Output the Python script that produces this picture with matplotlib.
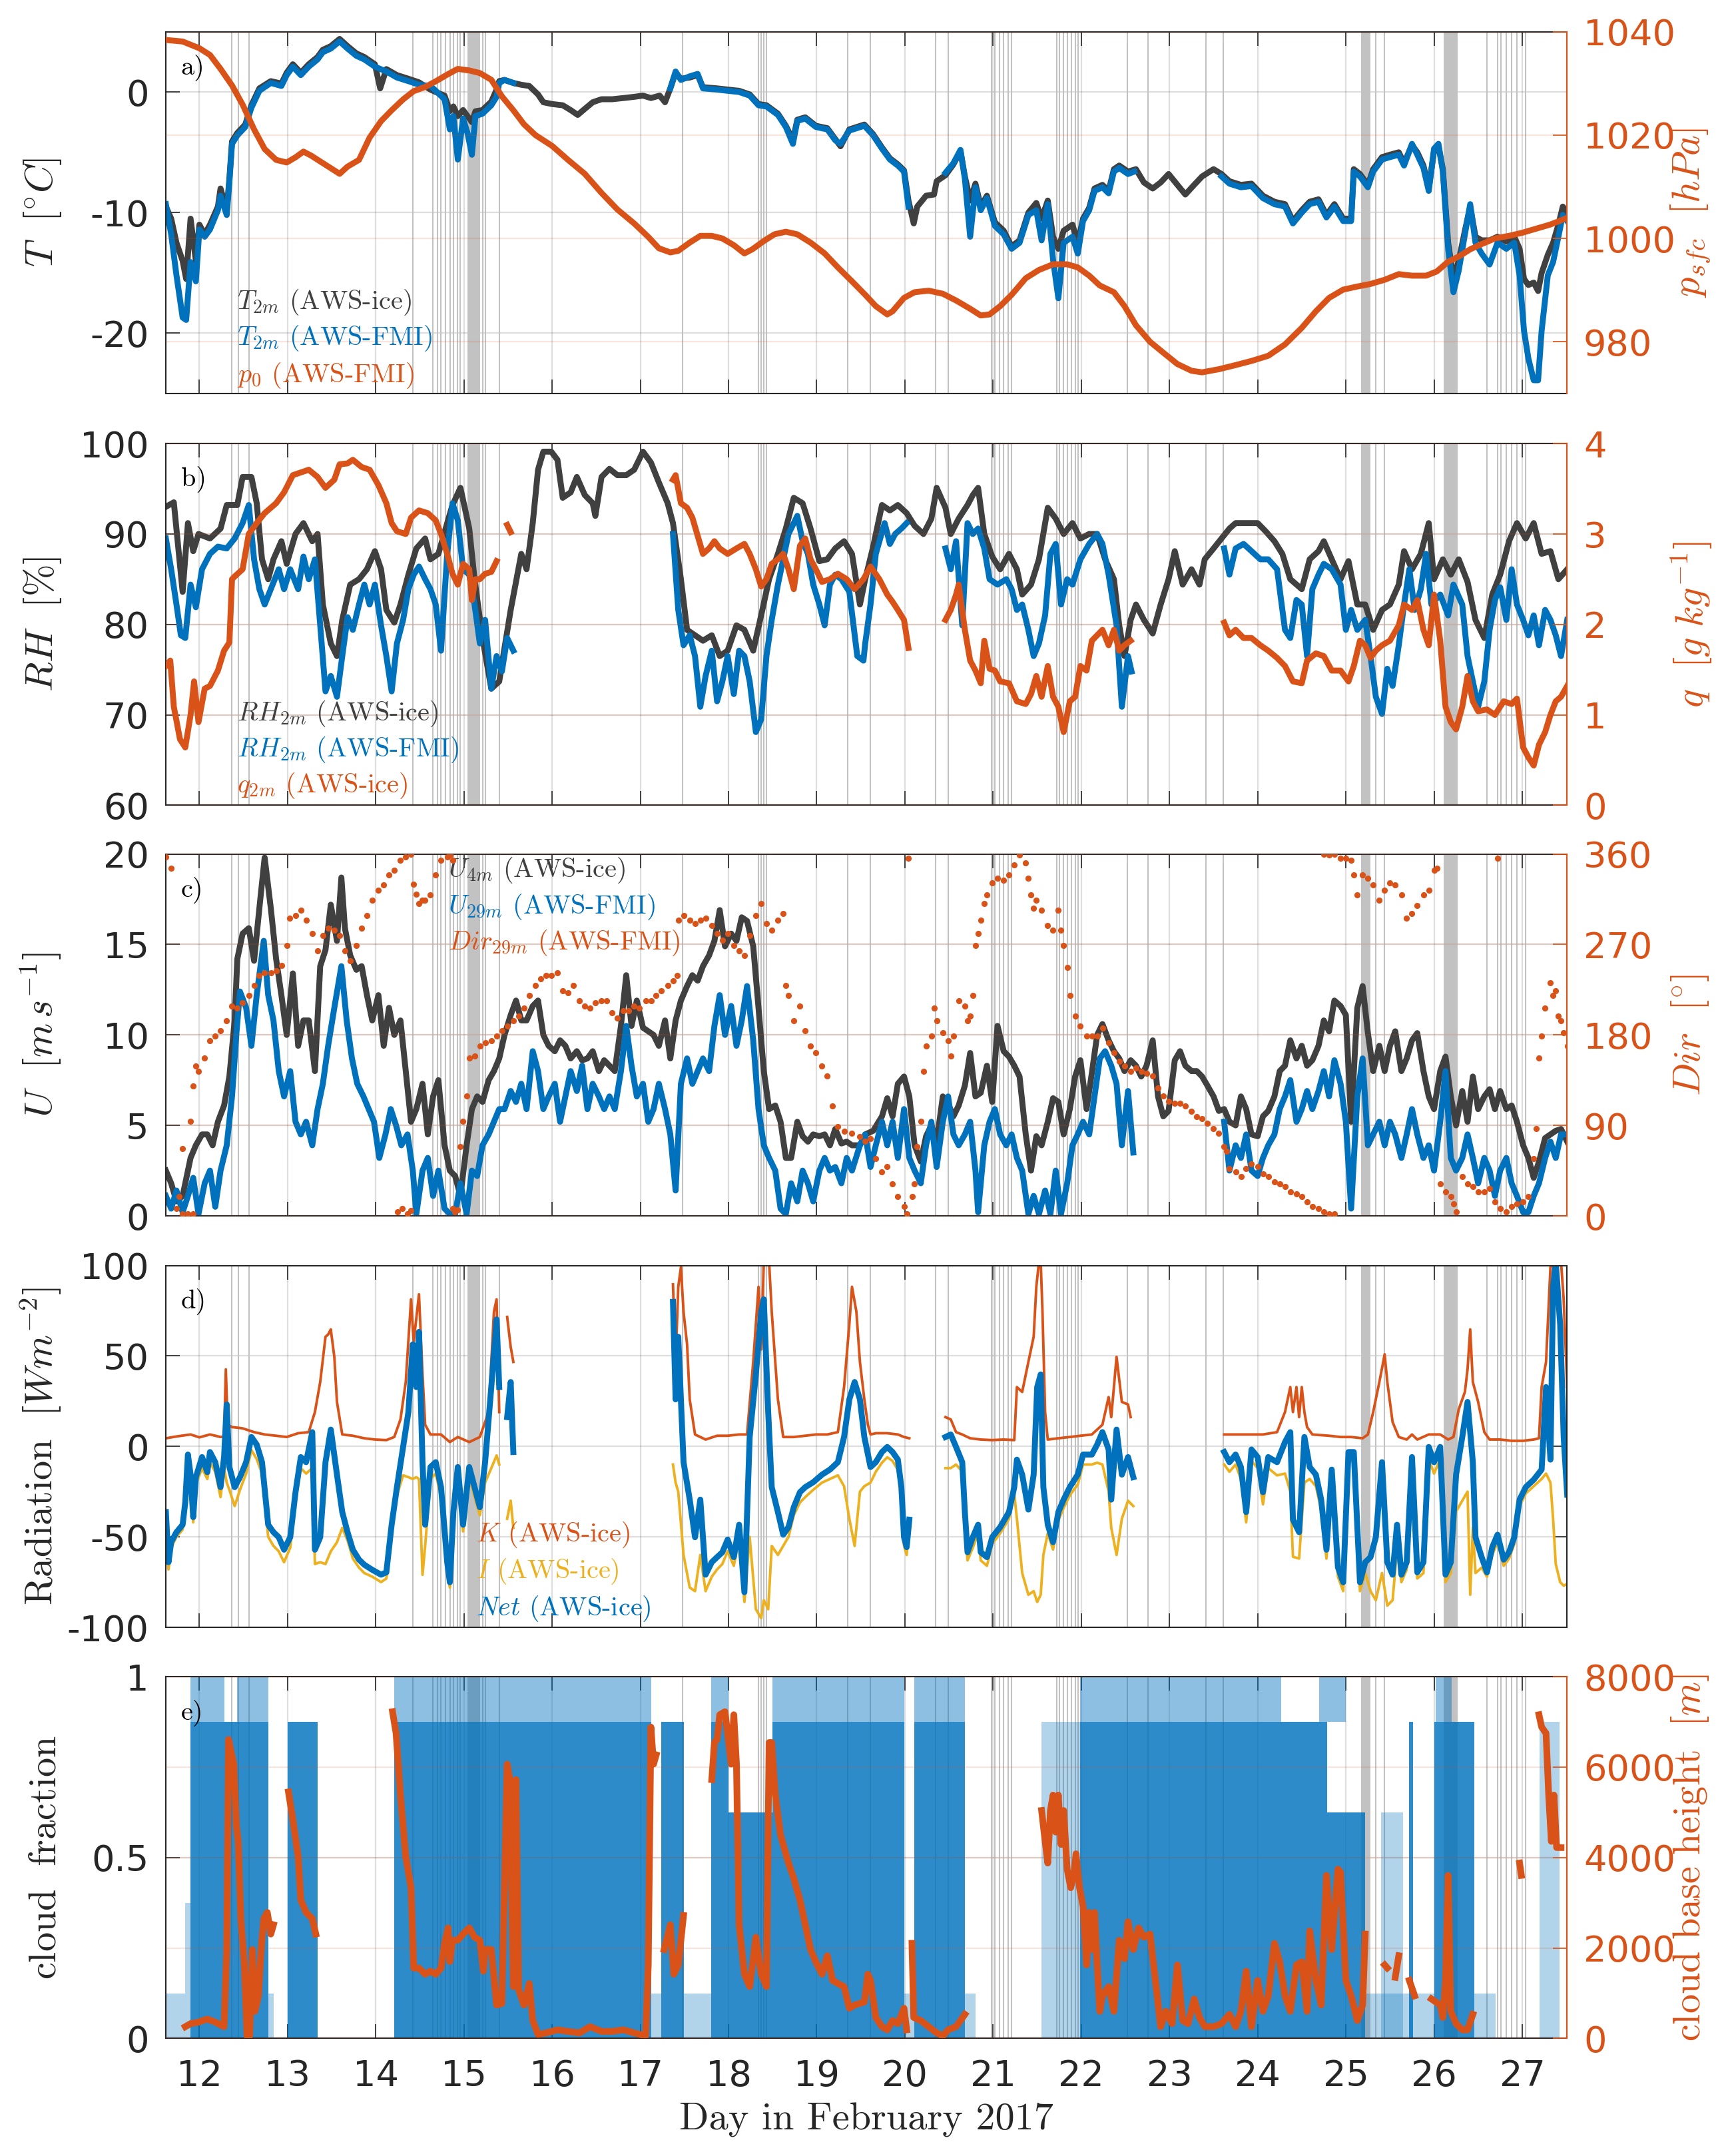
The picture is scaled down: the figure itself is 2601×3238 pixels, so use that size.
import numpy as np
import matplotlib.pyplot as plt

nan = float('nan')

# ---------------- data (day in February 2017, value) ----------------
days = list(range(12, 28))

event_lines = [12.37, 12.44, 12.56, 14.42, 14.65, 14.70, 14.74, 14.79, 14.84, 14.88,
               14.93, 14.96, 15.21, 15.24, 15.40, 17.475, 18.34, 18.37, 18.40, 18.43,
               19.35, 19.61, 20.35, 20.49, 20.98, 21.02, 21.07, 21.12, 21.17, 21.21,
               21.72, 21.75, 21.80, 21.84, 21.89, 21.93, 21.96, 22.525, 22.76, 23.41,
               23.61, 25.34, 25.44, 26.60, 26.72, 26.76, 26.82, 26.88, 26.94, 27.04]
event_spans = [(15.04, 15.18), (25.17, 25.28), (26.11, 26.27)]

T_fmi = [(11.62, -9.3), (11.68, -11.8), (11.74, -15.2), (11.81, -18.7), (11.85, -18.9), (11.90, -14.1),
         (11.96, -15.7), (12.00, -11.4), (12.06, -12.0), (12.12, -11.4), (12.21, -9.8), (12.24, -8.6),
         (12.31, -10.2), (12.34, -7.5), (12.37, -4.3), (12.43, -3.6), (12.52, -2.9), (12.59, -1.3),
         (12.68, 0.1), (12.81, 0.75), (12.93, 0.5), (12.99, 1.4), (13.06, 2.1), (13.15, 1.4), (13.24, 2.1),
         (13.34, 2.7), (13.40, 3.3), (13.49, 3.6), (13.59, 4.2), (13.68, 3.6), (13.78, 3.0), (13.87, 2.7),
         (13.99, 2.1), (14.12, 1.7), (14.24, 1.2), (14.37, 0.9), (14.49, 0.6), (14.62, 0.5), (14.68, 0.1),
         (14.78, -0.6), (14.84, -3.1), (14.88, -2.0), (14.93, -5.6), (14.99, -2.2), (15.04, -3.4),
         (15.09, -5.2), (15.13, -2.0), (15.21, -1.8), (15.31, -1.1), (15.37, -0.4), (15.40, 0.75),
         (15.46, 1.0), (15.56, 0.75), (15.60, nan),
         (17.34, 0.3), (17.40, 1.7), (17.46, 1.0), (17.56, 1.3), (17.65, 1.5), (17.71, 0.3), (17.87, 0.2),
         (17.99, 0.1), (18.12, 0.0), (18.24, -0.3), (18.34, -1.1), (18.43, -1.2), (18.56, -1.9), (18.65, -2.9),
         (18.73, -4.3), (18.78, -2.4), (18.87, -2.2), (18.99, -2.9), (19.12, -3.1), (19.21, -4.0),
         (19.27, -4.3), (19.37, -3.2), (19.54, -2.8), (19.64, -3.6), (19.74, -4.7), (19.83, -5.6),
         (19.92, -6.1), (19.99, -6.6), (20.04, -9.5), (20.06, nan),
         (20.46, -6.7), (20.55, -5.9), (20.63, -4.8), (20.68, -7.2), (20.74, -12.0), (20.80, -7.9),
         (20.86, -9.8), (20.93, -8.8), (21.02, -11.1), (21.12, -11.8), (21.21, -13.0), (21.30, -12.5),
         (21.40, -10.2), (21.49, -9.8), (21.55, -12.3), (21.62, -9.3), (21.68, -13.9), (21.74, -17.1),
         (21.80, -12.5), (21.90, -12.0), (21.96, -13.4), (22.02, -10.7), (22.09, -9.8), (22.15, -8.2),
         (22.24, -7.9), (22.31, -8.4), (22.37, -6.6), (22.43, -6.3), (22.53, -6.8), (22.60, -6.6), (22.62, nan),
         (23.59, -7.0), (23.68, -7.6), (23.81, -7.9), (23.93, -7.8), (24.06, -8.8), (24.19, -9.3),
         (24.31, -9.5), (24.40, -10.9), (24.50, -10.0), (24.59, -9.3), (24.69, -9.1), (24.78, -10.4),
         (24.87, -9.5), (24.97, -10.7), (25.06, -10.7), (25.09, -6.6), (25.16, -7.0), (25.25, -7.9),
         (25.31, -6.6), (25.41, -5.6), (25.50, -5.4), (25.60, -5.2), (25.66, -6.1), (25.75, -4.3),
         (25.81, -5.2), (25.88, -6.3), (25.94, -8.2), (26.00, -4.7), (26.05, -4.3), (26.10, -6.6),
         (26.16, -13.0), (26.22, -16.6), (26.28, -14.8), (26.35, -11.8), (26.41, -9.3), (26.47, -12.5),
         (26.54, -13.4), (26.63, -14.3), (26.72, -12.5), (26.82, -13.0), (26.91, -12.5), (26.97, -15.2),
         (27.02, -19.8), (27.07, -22.1), (27.13, -23.9), (27.18, -23.9), (27.22, -19.8), (27.29, -15.2),
         (27.35, -14.1), (27.41, -12.0), (27.46, -10.2), (27.51, -10.7)]

T_ice = [(11.62, -9.5), (11.68, -10.5), (11.74, -12.5), (11.81, -14.0), (11.85, -15.5), (11.90, -10.5),
         (11.96, -14.0), (12.00, -11.0), (12.06, -11.8), (12.12, -11.0), (12.21, -9.5), (12.24, -8.0),
         (12.31, -9.8), (12.34, -7.2), (12.37, -4.1), (12.43, -3.4), (12.52, -2.7), (12.59, -1.1),
         (12.68, 0.3), (12.81, 0.9), (12.93, 0.7), (12.99, 1.6), (13.06, 2.3), (13.15, 1.6), (13.24, 2.3),
         (13.34, 2.9), (13.40, 3.5), (13.49, 3.8), (13.59, 4.4), (13.68, 3.8), (13.78, 3.2), (13.87, 2.9),
         (13.99, 2.3), (14.05, 0.3), (14.12, 1.9), (14.24, 1.4), (14.37, 1.1), (14.49, 0.8), (14.62, 0.2),
         (14.68, 0.0), (14.78, -0.3), (14.84, -1.6), (14.88, -1.2), (14.93, -2.0), (14.99, -1.5),
         (15.04, -2.0), (15.09, -2.5), (15.13, -1.6), (15.21, -1.5), (15.31, -0.8), (15.37, 0.2),
         (15.40, 0.9), (15.46, 1.0), (15.56, 0.75), (15.65, 0.6), (15.74, 0.5), (15.84, -0.2), (15.90, -0.85),
         (16.00, -1.0), (16.12, -1.1), (16.21, -1.5), (16.29, -1.9), (16.37, -1.4), (16.46, -0.85),
         (16.56, -0.6), (16.68, -0.6), (16.81, -0.5), (16.93, -0.4), (17.03, -0.3), (17.12, -0.5),
         (17.22, -0.3), (17.28, -0.85), (17.34, 0.3), (17.40, 1.6), (17.46, 1.1), (17.56, 1.2), (17.65, 1.4),
         (17.71, 0.4), (17.87, 0.3), (17.99, 0.2), (18.12, 0.1), (18.24, -0.2), (18.34, -1.0), (18.43, -1.1),
         (18.56, -1.8), (18.65, -2.8), (18.73, -4.0), (18.78, -2.3), (18.87, -2.1), (18.99, -2.8),
         (19.12, -3.0), (19.21, -3.9), (19.27, -4.5), (19.37, -3.1), (19.54, -2.7), (19.64, -3.5),
         (19.74, -4.6), (19.83, -5.5), (19.92, -6.0), (19.99, -6.5), (20.04, -9.0), (20.10, -10.9),
         (20.14, -9.5), (20.24, -8.6), (20.33, -8.5), (20.36, -7.4), (20.46, -6.9), (20.55, -6.0),
         (20.63, -4.9), (20.68, -7.0), (20.74, -9.0), (20.80, -7.6), (20.86, -9.5), (20.93, -8.6),
         (21.02, -10.8), (21.12, -11.5), (21.21, -12.8), (21.30, -12.3), (21.40, -10.0), (21.49, -9.2),
         (21.55, -10.5), (21.62, -9.0), (21.68, -12.0), (21.74, -13.0), (21.80, -11.5), (21.90, -11.0),
         (21.96, -12.5), (22.02, -10.5), (22.09, -9.6), (22.15, -8.0), (22.24, -7.7), (22.31, -8.2),
         (22.37, -6.4), (22.43, -6.1), (22.53, -6.6), (22.62, -6.4), (22.71, -7.5), (22.81, -8.0),
         (22.90, -7.5), (22.99, -6.8), (23.09, -7.7), (23.18, -8.5), (23.28, -7.7), (23.37, -7.0),
         (23.50, -6.4), (23.59, -6.8), (23.68, -7.4), (23.81, -7.7), (23.93, -7.6), (24.06, -8.6),
         (24.19, -9.1), (24.31, -9.3), (24.40, -10.7), (24.50, -9.8), (24.59, -9.1), (24.69, -8.9),
         (24.78, -10.2), (24.87, -9.3), (24.97, -10.5), (25.06, -10.5), (25.09, -6.4), (25.16, -6.8),
         (25.25, -7.7), (25.31, -6.4), (25.41, -5.4), (25.50, -5.2), (25.60, -5.0), (25.66, -5.9),
         (25.75, -4.4), (25.81, -5.0), (25.88, -6.1), (25.94, -8.0), (26.00, -4.9), (26.05, -4.5),
         (26.10, -6.4), (26.16, -12.5), (26.22, -15.5), (26.28, -14.0), (26.35, -11.5), (26.41, -9.5),
         (26.47, -12.0), (26.54, -12.3), (26.63, -12.3), (26.72, -12.0), (26.82, -12.4), (26.91, -12.0),
         (26.97, -13.0), (27.02, -15.5), (27.07, -16.0), (27.13, -15.8), (27.18, -16.5), (27.22, -15.0),
         (27.29, -13.5), (27.35, -12.5), (27.41, -11.0), (27.46, -9.5), (27.51, -10.0)]

p0_fmi = [(11.62, 1038.4), (11.81, 1038.1), (12.00, 1036.8), (12.12, 1035.5), (12.24, 1032.8), (12.37, 1029.6),
          (12.49, 1025.9), (12.62, 1021.1), (12.74, 1017.3), (12.87, 1015.2), (12.99, 1014.7), (13.09, 1015.7),
          (13.18, 1016.8), (13.27, 1016.0), (13.37, 1014.9), (13.49, 1013.6), (13.59, 1012.5), (13.68, 1013.9),
          (13.81, 1015.2), (13.93, 1019.5), (14.06, 1022.7), (14.18, 1024.8), (14.31, 1026.9), (14.43, 1028.5),
          (14.56, 1029.3), (14.68, 1030.4), (14.81, 1031.7), (14.93, 1032.8), (15.06, 1032.5), (15.18, 1032.0),
          (15.31, 1030.7), (15.43, 1027.5), (15.56, 1024.8), (15.68, 1022.1), (15.81, 1020.0), (16.00, 1017.9),
          (16.18, 1015.2), (16.37, 1012.5), (16.56, 1008.8), (16.74, 1005.6), (16.93, 1002.9), (17.09, 1000.3),
          (17.21, 998.1), (17.34, 997.3), (17.43, 997.6), (17.56, 999.2), (17.68, 1000.5), (17.81, 1000.5),
          (17.93, 1000.0), (18.06, 998.7), (18.18, 997.1), (18.27, 997.9), (18.40, 999.5), (18.52, 1000.8),
          (18.65, 1001.3), (18.78, 1000.8), (18.93, 999.2), (19.09, 997.1), (19.24, 994.4), (19.40, 991.7),
          (19.55, 989.1), (19.67, 986.9), (19.80, 985.3), (19.86, 985.9), (19.99, 988.5), (20.11, 989.6),
          (20.27, 989.9), (20.43, 989.3), (20.58, 988.0), (20.74, 986.4), (20.86, 985.1), (20.96, 985.3),
          (21.08, 986.9), (21.21, 989.1), (21.37, 992.3), (21.52, 993.9), (21.68, 995.0), (21.84, 995.0),
          (21.96, 994.4), (22.09, 992.8), (22.21, 990.9), (22.37, 989.6), (22.49, 986.9), (22.62, 983.2),
          (22.78, 980.0), (22.93, 977.9), (23.09, 975.7), (23.25, 974.4), (23.37, 974.1), (23.56, 974.7),
          (23.75, 975.5), (23.93, 976.3), (24.12, 977.3), (24.31, 979.5), (24.50, 982.7), (24.66, 985.9),
          (24.81, 988.5), (24.97, 990.1), (25.13, 990.7), (25.28, 991.2), (25.44, 992.0), (25.60, 993.1),
          (25.75, 992.8), (25.91, 992.8), (26.03, 993.6), (26.16, 995.5), (26.28, 996.5), (26.41, 997.9),
          (26.54, 998.9), (26.69, 1000.0), (26.85, 1000.5), (27.00, 1001.1), (27.16, 1001.9), (27.32, 1002.7),
          (27.44, 1003.5), (27.51, 1004.0)]

RH_ice = [(11.62, 93.0), (11.71, 93.5), (11.81, 83.6), (11.87, 91.2), (11.93, 88.1), (11.99, 90.0), (12.12, 89.5),
          (12.24, 90.6), (12.31, 93.2), (12.43, 93.2), (12.49, 96.3), (12.59, 96.3), (12.65, 93.4), (12.71, 87.2),
          (12.78, 85.0), (12.84, 87.2), (12.93, 89.2), (12.99, 86.7), (13.09, 90.0), (13.18, 91.2), (13.28, 89.2),
          (13.34, 90.0), (13.40, 82.2), (13.49, 77.9), (13.56, 76.5), (13.62, 80.5), (13.71, 84.4), (13.81, 85.0),
          (13.90, 86.1), (13.99, 88.1), (14.06, 86.1), (14.12, 81.6), (14.21, 80.2), (14.28, 82.2), (14.37, 85.5),
          (14.46, 88.4), (14.56, 89.5), (14.62, 87.2), (14.71, 87.8), (14.81, 91.2), (14.87, 93.2), (14.96, 95.1),
          (15.06, 90.6), (15.12, 85.0), (15.21, 78.5), (15.31, 72.9), (15.40, 73.7), (15.46, 77.4), (15.53, 81.6),
          (15.59, 84.7), (15.65, 87.8), (15.71, 86.1), (15.78, 91.2), (15.84, 97.1), (15.90, 99.1), (15.99, 99.1),
          (16.06, 98.2), (16.12, 94.0), (16.21, 94.6), (16.28, 96.3), (16.37, 94.3), (16.46, 93.4), (16.49, 92.0),
          (16.56, 96.3), (16.65, 97.2), (16.74, 96.5), (16.84, 96.5), (16.93, 97.1), (17.03, 99.1), (17.12, 97.9),
          (17.21, 95.7), (17.31, 93.4), (17.37, 91.2), (17.46, 85.0), (17.53, 79.4), (17.62, 78.8), (17.71, 78.2),
          (17.81, 78.8), (17.90, 76.5), (17.99, 77.1), (18.09, 79.9), (18.18, 79.4), (18.28, 77.1), (18.37, 81.0),
          (18.46, 85.0), (18.56, 87.8), (18.65, 90.6), (18.74, 94.0), (18.84, 93.4), (18.93, 90.6), (19.03, 87.0),
          (19.12, 87.2), (19.21, 88.4), (19.31, 89.2), (19.40, 87.8), (19.49, 82.2), (19.55, 85.0), (19.64, 88.6),
          (19.74, 93.2), (19.83, 92.6), (19.92, 93.2), (20.02, 92.3), (20.11, 90.9), (20.21, 90.0), (20.30, 91.7),
          (20.36, 95.1), (20.46, 92.9), (20.52, 90.0), (20.61, 91.7), (20.71, 93.2), (20.77, 94.3), (20.83, 95.1),
          (20.90, 90.0), (20.99, 87.5), (21.08, 86.1), (21.18, 87.8), (21.27, 86.1), (21.33, 83.3), (21.43, 84.4),
          (21.52, 87.2), (21.62, 92.9), (21.71, 91.7), (21.80, 90.0), (21.90, 91.2), (21.99, 89.5), (22.09, 90.0),
          (22.18, 90.0), (22.27, 87.2), (22.37, 85.0), (22.43, 79.9), (22.49, 76.5), (22.56, 80.5), (22.62, 82.2),
          (22.71, 80.5), (22.81, 79.0), (22.90, 82.2), (22.99, 85.0), (23.06, 88.1), (23.15, 84.4), (23.25, 86.1),
          (23.34, 84.4), (23.40, 87.2), (23.50, 88.4), (23.59, 89.5), (23.68, 90.6), (23.75, 91.2), (23.87, 91.2),
          (24.00, 91.2), (24.09, 90.3), (24.19, 89.2), (24.28, 87.8), (24.37, 85.0), (24.50, 83.9), (24.59, 87.2),
          (24.69, 88.1), (24.75, 89.2), (24.84, 87.2), (24.94, 85.0), (25.03, 87.0), (25.13, 82.2), (25.22, 82.2),
          (25.31, 79.4), (25.41, 81.6), (25.50, 82.2), (25.60, 84.4), (25.66, 88.1), (25.75, 86.1), (25.85, 87.8),
          (25.94, 91.2), (26.00, 85.0), (26.10, 87.2), (26.19, 85.5), (26.28, 87.2), (26.38, 84.7), (26.47, 80.5),
          (26.57, 78.5), (26.66, 83.3), (26.75, 85.5), (26.85, 89.2), (26.94, 91.2), (27.04, 89.5), (27.13, 91.2),
          (27.22, 87.8), (27.32, 88.1), (27.41, 85.0), (27.51, 86.1)]

RH_fmi = [(11.62, 89.5), (11.68, 86.1), (11.74, 82.2), (11.79, 78.8), (11.84, 78.5), (11.90, 84.4), (11.96, 81.9),
          (12.03, 86.1), (12.12, 87.8), (12.21, 88.6), (12.31, 88.4), (12.40, 89.5), (12.49, 91.2), (12.56, 93.2),
          (12.62, 87.2), (12.68, 83.9), (12.74, 82.2), (12.81, 83.9), (12.90, 86.1), (12.96, 83.9), (13.03, 86.1),
          (13.12, 83.9), (13.18, 87.5), (13.24, 85.0), (13.31, 87.2), (13.37, 79.9), (13.43, 72.6), (13.49, 74.3),
          (13.56, 72.0), (13.62, 76.5), (13.68, 80.8), (13.74, 79.4), (13.81, 82.2), (13.87, 84.4), (13.93, 82.2),
          (13.99, 84.4), (14.06, 79.9), (14.12, 76.5), (14.18, 72.6), (14.24, 77.9), (14.31, 80.5), (14.37, 83.9),
          (14.43, 85.5), (14.49, 86.4), (14.56, 85.0), (14.62, 83.9), (14.68, 82.2), (14.74, 77.1), (14.81, 87.8),
          (14.87, 93.4), (14.93, 91.5), (14.99, 86.1), (15.06, 85.5), (15.12, 82.2), (15.18, 77.9), (15.24, 80.5),
          (15.31, 72.9), (15.37, 76.5), (15.43, 74.8), (15.49, 78.5), (15.56, 77.1), (15.58, nan),
          (17.37, 90.0), (17.43, 81.6), (17.49, 77.7), (17.56, 78.8), (17.62, 76.5), (17.68, 70.9), (17.74, 74.3),
          (17.81, 77.1), (17.87, 71.5), (17.93, 73.7), (17.99, 76.5), (18.06, 72.3), (18.12, 77.1), (18.18, 76.5),
          (18.24, 73.7), (18.31, 68.1), (18.37, 69.5), (18.43, 76.5), (18.49, 80.5), (18.56, 84.4), (18.62, 87.2),
          (18.68, 90.0), (18.78, 92.0), (18.84, 89.2), (18.90, 87.8), (18.96, 84.4), (19.03, 82.2), (19.09, 79.9),
          (19.15, 84.4), (19.21, 85.5), (19.28, 85.0), (19.37, 83.6), (19.46, 76.5), (19.53, 76.0), (19.55, 77.9),
          (19.61, 82.2), (19.67, 87.8), (19.77, 91.2), (19.83, 88.9), (19.89, 90.0), (19.96, 90.6), (20.02, 91.2),
          (20.04, nan),
          (20.46, 88.4), (20.52, 86.1), (20.58, 89.2), (20.65, 79.9), (20.71, 91.2), (20.77, 90.0), (20.83, 90.6),
          (20.90, 88.4), (20.96, 85.0), (21.05, 84.4), (21.15, 85.0), (21.21, 83.9), (21.27, 81.6), (21.33, 82.2),
          (21.40, 79.4), (21.46, 76.5), (21.52, 77.9), (21.59, 81.0), (21.65, 87.8), (21.71, 88.9), (21.77, 82.2),
          (21.84, 85.0), (21.90, 84.4), (21.99, 87.2), (22.09, 88.9), (22.18, 90.0), (22.24, 88.9), (22.31, 85.5),
          (22.40, 79.9), (22.46, 70.9), (22.53, 76.5), (22.57, 74.8), (22.59, nan),
          (23.62, 88.4), (23.68, 85.5), (23.75, 88.4), (23.84, 88.9), (23.93, 88.1), (24.03, 87.2), (24.12, 87.2),
          (24.22, 86.1), (24.31, 79.4), (24.37, 78.5), (24.44, 82.7), (24.50, 82.2), (24.56, 76.5), (24.62, 83.9),
          (24.69, 85.5), (24.75, 86.7), (24.84, 86.1), (24.94, 84.4), (25.00, 79.4), (25.06, 81.6), (25.13, 79.4),
          (25.22, 80.5), (25.28, 76.5), (25.34, 72.0), (25.41, 70.1), (25.47, 75.1), (25.53, 73.2), (25.60, 77.7),
          (25.66, 82.2), (25.72, 86.1), (25.78, 81.6), (25.85, 83.9), (25.91, 87.8), (25.97, 82.2), (26.07, 83.3),
          (26.16, 81.0), (26.22, 84.4), (26.32, 82.2), (26.38, 76.5), (26.44, 73.7), (26.50, 70.9), (26.57, 73.7),
          (26.63, 79.4), (26.69, 82.7), (26.75, 84.1), (26.82, 80.5), (26.88, 86.1), (26.94, 82.2), (27.01, 80.5),
          (27.07, 78.8), (27.13, 81.0), (27.19, 77.7), (27.26, 81.6), (27.32, 80.5), (27.38, 78.8), (27.44, 76.5),
          (27.51, 80.5)]

q_ice = [(11.62, 1.54), (11.67, 1.60), (11.71, 1.09), (11.78, 0.73), (11.84, 0.64), (11.90, 1.00), (11.94, 1.37),
         (11.99, 0.92), (12.06, 1.29), (12.12, 1.32), (12.21, 1.49), (12.28, 1.71), (12.34, 1.80), (12.37, 2.50),
         (12.40, 2.53), (12.49, 2.61), (12.56, 3.00), (12.65, 3.12), (12.74, 3.23), (12.87, 3.34), (12.96, 3.46),
         (13.06, 3.65), (13.15, 3.68), (13.24, 3.71), (13.34, 3.63), (13.43, 3.51), (13.53, 3.60), (13.59, 3.77),
         (13.68, 3.78), (13.74, 3.82), (13.84, 3.74), (13.93, 3.71), (14.03, 3.54), (14.12, 3.34), (14.18, 3.12),
         (14.24, 3.03), (14.34, 3.00), (14.40, 3.18), (14.49, 3.26), (14.59, 3.23), (14.68, 3.15), (14.74, 3.00),
         (14.81, 2.78), (14.87, 2.56), (14.93, 2.44), (14.99, 2.67), (15.06, 2.61), (15.09, 2.27), (15.13, 2.50),
         (15.18, 2.50), (15.24, 2.56), (15.31, 2.58), (15.37, 2.70), (15.39, nan), (15.49, 3.10), (15.53, 3.02),
         (15.55, nan),
         (17.37, 3.60), (17.40, 3.65), (17.46, 3.34), (17.53, 3.29), (17.59, 3.18), (17.65, 2.98), (17.71, 2.78),
         (17.78, 2.84), (17.84, 2.92), (17.90, 2.84), (17.99, 2.78), (18.09, 2.84), (18.18, 2.89), (18.24, 2.78),
         (18.31, 2.61), (18.37, 2.42), (18.43, 2.50), (18.49, 2.67), (18.56, 2.72), (18.62, 2.78), (18.68, 2.61),
         (18.74, 2.39), (18.81, 2.87), (18.87, 2.95), (18.93, 2.72), (18.99, 2.61), (19.06, 2.47), (19.15, 2.50),
         (19.24, 2.56), (19.34, 2.50), (19.43, 2.39), (19.53, 2.50), (19.61, 2.64), (19.71, 2.50), (19.80, 2.33),
         (19.86, 2.25), (19.92, 2.16), (19.99, 2.05), (20.04, 1.74), (20.06, nan),
         (20.46, 2.05), (20.52, 2.16), (20.58, 2.33), (20.61, 2.44), (20.68, 1.94), (20.74, 1.60), (20.80, 1.49),
         (20.86, 1.35), (20.90, 1.82), (20.96, 1.51), (21.02, 1.49), (21.08, 1.37), (21.18, 1.35), (21.27, 1.15),
         (21.37, 1.12), (21.43, 1.23), (21.49, 1.43), (21.55, 1.20), (21.62, 1.54), (21.68, 1.20), (21.74, 1.09),
         (21.80, 0.81), (21.87, 1.15), (21.93, 1.20), (21.99, 1.54), (22.06, 1.49), (22.12, 1.82), (22.18, 1.88),
         (22.24, 1.94), (22.31, 1.77), (22.37, 1.94), (22.43, 1.71), (22.49, 1.77), (22.56, 1.82), (22.58, nan),
         (23.62, 2.02), (23.68, 1.88), (23.75, 1.94), (23.84, 1.85), (23.93, 1.85), (24.03, 1.77), (24.12, 1.71),
         (24.22, 1.63), (24.31, 1.54), (24.40, 1.37), (24.50, 1.35), (24.56, 1.60), (24.66, 1.68), (24.75, 1.65),
         (24.84, 1.49), (24.94, 1.49), (25.03, 1.37), (25.09, 1.54), (25.16, 1.82), (25.22, 1.77), (25.28, 1.63),
         (25.34, 1.71), (25.41, 1.77), (25.50, 1.82), (25.60, 1.99), (25.66, 2.22), (25.75, 2.16), (25.81, 2.27),
         (25.88, 1.94), (25.94, 1.77), (26.00, 2.33), (26.07, 1.82), (26.13, 1.09), (26.19, 0.92), (26.25, 0.84),
         (26.32, 1.09), (26.38, 1.43), (26.44, 1.15), (26.50, 1.04), (26.60, 1.06), (26.69, 1.00), (26.79, 1.15),
         (26.88, 1.12), (26.94, 1.18), (27.01, 0.64), (27.07, 0.53), (27.13, 0.44), (27.19, 0.67), (27.26, 0.81),
         (27.32, 1.00), (27.38, 1.15), (27.44, 1.20), (27.51, 1.32)]

U_ice = [(11.62, 2.5), (11.68, 1.8), (11.74, 0.8), (11.81, 1.1), (11.90, 3.2), (11.96, 3.9), (12.03, 4.5),
         (12.09, 4.5), (12.15, 3.9), (12.21, 5.2), (12.28, 6.1), (12.34, 7.7), (12.40, 10.8), (12.43, 14.2),
         (12.49, 15.6), (12.56, 15.9), (12.62, 14.1), (12.68, 17.0), (12.74, 19.8), (12.81, 17.0), (12.87, 14.2),
         (12.93, 12.2), (12.99, 10.0), (13.06, 13.4), (13.12, 9.4), (13.18, 10.8), (13.24, 10.8), (13.31, 8.0),
         (13.37, 13.8), (13.43, 14.7), (13.49, 17.2), (13.56, 15.2), (13.61, 18.7), (13.65, 15.9), (13.71, 14.4),
         (13.78, 13.6), (13.84, 13.8), (13.90, 12.2), (13.96, 10.8), (14.03, 12.2), (14.09, 9.4), (14.15, 11.5),
         (14.21, 10.0), (14.28, 10.8), (14.34, 8.0), (14.40, 5.2), (14.46, 5.9), (14.53, 7.3), (14.59, 4.5),
         (14.65, 6.6), (14.71, 7.5), (14.78, 3.9), (14.84, 2.5), (14.90, 2.2), (14.96, 1.1), (15.03, 3.9),
         (15.09, 5.9), (15.15, 6.6), (15.21, 6.3), (15.28, 7.5), (15.34, 8.0), (15.40, 8.7), (15.46, 10.0),
         (15.53, 11.1), (15.59, 11.9), (15.65, 10.8), (15.71, 10.8), (15.78, 11.6), (15.84, 11.9), (15.90, 10.0),
         (15.96, 9.4), (16.03, 9.1), (16.09, 9.7), (16.15, 9.4), (16.21, 8.7), (16.28, 9.1), (16.34, 8.6),
         (16.40, 8.7), (16.46, 9.1), (16.53, 8.0), (16.59, 8.6), (16.65, 8.3), (16.71, 8.0), (16.78, 10.5),
         (16.84, 13.3), (16.90, 10.5), (16.96, 11.9), (17.03, 10.4), (17.09, 10.2), (17.15, 10.0), (17.21, 9.4),
         (17.28, 10.8), (17.34, 8.7), (17.40, 10.8), (17.46, 11.9), (17.53, 12.7), (17.59, 13.3), (17.65, 13.0),
         (17.71, 13.8), (17.78, 14.4), (17.84, 15.2), (17.90, 16.9), (17.96, 14.9), (18.03, 15.6), (18.09, 15.2),
         (18.15, 16.5), (18.21, 16.3), (18.28, 14.9), (18.34, 11.5), (18.40, 8.0), (18.46, 5.9), (18.53, 6.1),
         (18.59, 5.2), (18.65, 3.2), (18.71, 3.2), (18.78, 5.2), (18.84, 4.4), (18.90, 4.1), (18.96, 4.5),
         (19.03, 4.4), (19.09, 4.5), (19.15, 3.9), (19.21, 4.8), (19.28, 4.0), (19.34, 4.1), (19.40, 3.9),
         (19.49, 3.9), (19.55, 4.5), (19.64, 4.7), (19.74, 5.5), (19.80, 6.5), (19.86, 5.5), (19.92, 7.3),
         (19.99, 7.7), (20.05, 6.6), (20.11, 3.9), (20.18, 3.0), (20.24, 4.4), (20.30, 5.0), (20.36, 4.1),
         (20.43, 6.6), (20.49, 6.2), (20.55, 5.5), (20.61, 6.1), (20.68, 7.2), (20.74, 9.0), (20.80, 6.6),
         (20.86, 6.8), (20.93, 8.3), (20.99, 6.3), (21.05, 10.5), (21.12, 9.1), (21.18, 8.8), (21.24, 8.3),
         (21.30, 7.7), (21.37, 4.5), (21.43, 2.5), (21.49, 4.4), (21.55, 3.9), (21.62, 5.2), (21.68, 6.5),
         (21.74, 6.3), (21.80, 4.5), (21.87, 5.9), (21.93, 7.7), (21.99, 8.6), (22.06, 5.9), (22.12, 7.9),
         (22.18, 10.0), (22.24, 10.6), (22.31, 9.7), (22.37, 9.1), (22.43, 8.7), (22.49, 8.0), (22.56, 8.6),
         (22.62, 8.3), (22.68, 7.7), (22.74, 8.3), (22.81, 9.7), (22.87, 6.6), (22.93, 5.5), (22.99, 5.8),
         (23.06, 8.6), (23.12, 9.1), (23.18, 8.3), (23.25, 8.0), (23.31, 8.0), (23.37, 7.7), (23.43, 7.2),
         (23.50, 6.6), (23.56, 5.8), (23.62, 5.9), (23.68, 5.2), (23.75, 5.0), (23.81, 6.6), (23.87, 5.9),
         (23.93, 4.5), (24.00, 4.4), (24.06, 5.5), (24.12, 5.8), (24.19, 6.6), (24.25, 8.0), (24.31, 8.3),
         (24.37, 9.7), (24.44, 8.7), (24.50, 9.4), (24.56, 8.3), (24.62, 8.6), (24.69, 9.4), (24.75, 10.8),
         (24.81, 10.2), (24.87, 11.9), (24.94, 11.6), (25.00, 11.1), (25.06, 5.2), (25.13, 11.5), (25.19, 12.7),
         (25.25, 10.1), (25.31, 8.0), (25.38, 9.4), (25.44, 8.0), (25.50, 9.4), (25.56, 10.2), (25.63, 8.0),
         (25.69, 8.7), (25.75, 9.7), (25.81, 10.1), (25.88, 8.0), (25.94, 6.6), (26.00, 5.9), (26.07, 8.0),
         (26.13, 8.8), (26.19, 6.6), (26.25, 5.0), (26.32, 6.9), (26.38, 5.2), (26.44, 7.7), (26.50, 5.9),
         (26.57, 6.6), (26.63, 7.0), (26.69, 5.9), (26.75, 6.9), (26.82, 5.9), (26.88, 6.1), (26.94, 5.2),
         (27.01, 3.9), (27.07, 3.2), (27.13, 2.1), (27.19, 3.0), (27.26, 4.3), (27.32, 4.5), (27.38, 4.7),
         (27.44, 4.8), (27.51, 4.1)]

U_fmi = [(11.62, 1.1), (11.68, 0.4), (11.74, 1.4), (11.81, 0.2), (11.87, 1.1), (11.93, 2.1), (11.99, 0.1),
         (12.06, 1.8), (12.12, 2.5), (12.18, 0.5), (12.24, 2.5), (12.31, 3.9), (12.37, 6.6), (12.42, 10.1),
         (12.46, 12.4), (12.53, 11.5), (12.59, 9.4), (12.65, 12.2), (12.73, 15.2), (12.78, 12.2), (12.84, 10.8),
         (12.90, 8.0), (12.96, 6.6), (13.03, 8.0), (13.09, 5.2), (13.15, 4.5), (13.21, 5.2), (13.28, 3.9),
         (13.34, 5.9), (13.40, 7.3), (13.46, 9.4), (13.53, 11.5), (13.61, 13.8), (13.67, 10.8), (13.73, 8.7),
         (13.79, 7.3), (13.86, 6.6), (13.92, 5.9), (13.98, 5.2), (14.04, 3.2), (14.11, 4.5), (14.17, 5.9),
         (14.23, 5.0), (14.29, 3.9), (14.36, 4.5), (14.42, 2.5), (14.46, 0.1), (14.53, 2.5), (14.59, 3.2),
         (14.65, 1.1), (14.71, 2.5), (14.78, 0.4), (14.84, 0.1), (14.90, 0.1), (14.96, 1.8), (15.03, 0.1),
         (15.09, 2.5), (15.15, 2.2), (15.21, 3.9), (15.28, 4.5), (15.34, 5.2), (15.40, 5.9), (15.46, 5.9),
         (15.53, 6.9), (15.59, 6.3), (15.65, 7.3), (15.71, 5.9), (15.78, 9.1), (15.84, 8.0), (15.90, 5.9),
         (15.96, 6.6), (16.03, 7.3), (16.09, 5.2), (16.15, 6.6), (16.21, 8.0), (16.28, 6.9), (16.34, 8.3),
         (16.40, 5.9), (16.46, 7.3), (16.53, 6.6), (16.59, 5.9), (16.65, 6.6), (16.71, 5.9), (16.78, 8.0),
         (16.84, 10.5), (16.90, 8.3), (16.96, 6.6), (17.03, 7.3), (17.09, 5.2), (17.15, 5.9), (17.21, 7.3),
         (17.28, 5.9), (17.34, 4.5), (17.40, 1.4), (17.46, 7.3), (17.53, 8.7), (17.59, 7.3), (17.65, 8.0),
         (17.71, 8.7), (17.78, 8.0), (17.84, 10.5), (17.90, 12.2), (17.96, 10.0), (18.03, 11.6), (18.09, 9.4),
         (18.15, 10.8), (18.21, 12.7), (18.28, 9.7), (18.34, 5.9), (18.40, 3.9), (18.46, 3.2), (18.53, 2.5),
         (18.59, 0.4), (18.65, 0.1), (18.71, 1.8), (18.78, 0.8), (18.84, 2.5), (18.90, 1.8), (18.96, 0.8),
         (19.03, 2.5), (19.09, 3.2), (19.15, 2.5), (19.21, 2.7), (19.28, 1.8), (19.34, 3.2), (19.40, 2.5),
         (19.49, 3.9), (19.55, 4.5), (19.61, 2.7), (19.67, 3.9), (19.74, 5.2), (19.80, 3.9), (19.86, 5.2),
         (19.92, 3.2), (19.99, 5.9), (20.05, 3.2), (20.11, 2.5), (20.18, 1.8), (20.24, 3.9), (20.30, 5.2),
         (20.36, 2.7), (20.43, 5.2), (20.49, 6.6), (20.55, 4.5), (20.61, 3.9), (20.68, 4.5), (20.74, 5.2),
         (20.80, 2.5), (20.83, 0.2), (20.90, 3.9), (20.96, 5.2), (21.02, 5.9), (21.08, 4.5), (21.15, 3.9),
         (21.21, 4.5), (21.27, 3.2), (21.33, 2.5), (21.40, 0.1), (21.46, 1.1), (21.52, 0.1), (21.59, 1.4),
         (21.65, 0.1), (21.71, 2.5), (21.77, 0.1), (21.84, 1.8), (21.90, 3.9), (21.96, 4.5), (22.02, 5.2),
         (22.09, 4.5), (22.15, 6.6), (22.21, 8.7), (22.27, 9.1), (22.34, 8.3), (22.40, 7.3), (22.46, 3.9),
         (22.53, 6.9), (22.59, 3.5), (22.60, nan),
         (23.62, 5.2), (23.68, 2.5), (23.75, 3.9), (23.81, 3.2), (23.87, 4.5), (23.93, 2.5), (24.00, 2.2),
         (24.06, 3.2), (24.12, 3.9), (24.19, 4.5), (24.25, 5.9), (24.31, 6.6), (24.37, 7.5), (24.44, 5.2),
         (24.50, 5.9), (24.56, 6.9), (24.62, 5.9), (24.69, 6.9), (24.75, 8.0), (24.81, 6.6), (24.87, 8.6),
         (24.94, 7.3), (25.00, 5.2), (25.06, 0.4), (25.13, 6.6), (25.19, 8.7), (25.25, 3.9), (25.31, 4.5),
         (25.38, 5.2), (25.44, 3.9), (25.50, 5.2), (25.56, 4.5), (25.63, 3.2), (25.69, 4.5), (25.75, 5.9),
         (25.81, 4.5), (25.88, 3.2), (25.94, 3.9), (26.00, 2.5), (26.07, 5.2), (26.13, 8.0), (26.19, 3.2),
         (26.25, 2.5), (26.32, 3.2), (26.38, 4.5), (26.44, 3.2), (26.50, 1.8), (26.57, 3.2), (26.63, 2.5),
         (26.69, 1.1), (26.75, 2.5), (26.82, 3.2), (26.88, 1.8), (26.94, 1.1), (27.01, 0.2), (27.07, 0.2),
         (27.13, 1.1), (27.19, 1.8), (27.26, 3.2), (27.32, 4.1), (27.38, 3.2), (27.44, 4.5), (27.51, 4.5)]

Dir_fmi = [(11.62, 357), (11.68, 346), (11.74, 7), (11.77, 19), (11.81, 2), (11.87, 2), (11.93, 2), (11.81, 67),
           (11.90, 94), (11.93, 129), (11.96, 149), (11.99, 144), (12.06, 157), (12.12, 174), (12.18, 179),
           (12.24, 184), (12.31, 194), (12.37, 209), (12.43, 207), (12.49, 212), (12.56, 219), (12.62, 229),
           (12.68, 239), (12.74, 242), (12.81, 242), (12.87, 244), (12.93, 249), (12.99, 269), (13.02, 296),
           (13.09, 299), (13.15, 304), (13.21, 294), (13.28, 281), (13.34, 264), (13.40, 279), (13.46, 286),
           (13.53, 284), (13.59, 279), (13.65, 264), (13.71, 254), (13.78, 269), (13.84, 286), (13.90, 299),
           (13.96, 314), (14.03, 324), (14.09, 329), (14.15, 339), (14.21, 344), (14.28, 354), (14.34, 357),
           (14.40, 360), (14.43, 330), (14.46, 320), (14.49, 311), (14.53, 314), (14.56, 314), (14.62, 319),
           (14.68, 339), (14.74, 354), (14.81, 357), (14.84, 359), (14.87, 354), (14.25, 4), (14.30, 7),
           (14.36, 2), (14.40, 5), (14.87, 7), (14.90, 4), (14.93, 6), (14.96, 69), (14.99, 94), (15.03, 119),
           (15.06, 157), (15.12, 159), (15.18, 169), (15.24, 172), (15.31, 174), (15.37, 179), (15.43, 184),
           (15.49, 189), (15.56, 194), (15.62, 199), (15.68, 207), (15.74, 219), (15.81, 229), (15.87, 236),
           (15.93, 239), (15.99, 239), (16.06, 242), (16.12, 224), (16.18, 222), (16.24, 229), (16.31, 214),
           (16.37, 209), (16.43, 207), (16.49, 212), (16.56, 214), (16.62, 214), (16.68, 202), (16.74, 197),
           (16.81, 204), (16.87, 204), (16.93, 209), (16.99, 207), (17.06, 214), (17.12, 214), (17.18, 219),
           (17.24, 224), (17.31, 229), (17.37, 234), (17.42, 239), (17.43, 294), (17.49, 299), (17.56, 294),
           (17.62, 291), (17.68, 294), (17.74, 296), (17.81, 289), (17.87, 281), (17.93, 274), (17.99, 281),
           (18.06, 269), (18.12, 264), (18.18, 259), (18.24, 279), (18.31, 299), (18.37, 311), (18.43, 291),
           (18.49, 284), (18.56, 294), (18.62, 301), (18.65, 229), (18.68, 219), (18.74, 194), (18.81, 209),
           (18.87, 184), (18.93, 169), (18.99, 162), (19.06, 149), (19.12, 139), (19.18, 109), (19.24, 89),
           (19.31, 84), (19.40, 82), (19.49, 79), (19.55, 74), (19.61, 77), (19.67, 57), (19.74, 44), (19.80, 49),
           (19.86, 32), (19.92, 19), (19.99, 9), (20.02, 2), (20.04, 356), (20.08, 19), (20.11, 32), (20.14, 69),
           (20.18, 94), (20.21, 144), (20.24, 169), (20.30, 179), (20.33, 207), (20.36, 194), (20.43, 182),
           (20.49, 174), (20.52, 159), (20.55, 179), (20.61, 214), (20.68, 209), (20.71, 194), (20.74, 199),
           (20.77, 219), (20.80, 269), (20.83, 281), (20.86, 294), (20.90, 311), (20.93, 319), (20.99, 331),
           (21.05, 336), (21.12, 334), (21.18, 339), (21.24, 349), (21.30, 359), (21.37, 351), (21.40, 336),
           (21.43, 319), (21.46, 306), (21.49, 314), (21.55, 304), (21.62, 289), (21.68, 284), (21.74, 304),
           (21.77, 284), (21.80, 269), (21.84, 247), (21.87, 219), (21.93, 199), (21.99, 189), (22.06, 179),
           (22.12, 179), (22.18, 179), (22.24, 187), (22.31, 172), (22.37, 162), (22.43, 154), (22.49, 149),
           (22.56, 144), (22.62, 147), (22.68, 144), (22.74, 142), (22.81, 139), (22.87, 127), (22.93, 119),
           (22.99, 114), (23.06, 112), (23.12, 112), (23.18, 109), (23.25, 104), (23.31, 99), (23.37, 97),
           (23.43, 92), (23.50, 87), (23.56, 82), (23.62, 69), (23.65, 64), (23.68, 47), (23.75, 44), (23.81, 39),
           (23.87, 47), (23.93, 52), (24.00, 49), (24.06, 42), (24.12, 39), (24.19, 34), (24.25, 32), (24.31, 29),
           (24.37, 24), (24.44, 22), (24.50, 19), (24.56, 14), (24.62, 9), (24.69, 7), (24.75, 4), (24.81, 2),
           (24.87, 2), (24.75, 360), (24.81, 359), (24.87, 360), (24.94, 356), (25.00, 356), (25.06, 354),
           (25.09, 339), (25.13, 319), (25.19, 339), (25.25, 336), (25.31, 329), (25.38, 314), (25.44, 324),
           (25.50, 331), (25.56, 329), (25.63, 319), (25.69, 296), (25.75, 301), (25.81, 309), (25.88, 319),
           (25.94, 324), (26.00, 344), (26.03, 346), (26.07, 32), (26.13, 24), (26.19, 19), (26.22, 12),
           (26.25, 4), (26.32, 39), (26.38, 32), (26.44, 29), (26.50, 24), (26.57, 24), (26.63, 27), (26.69, 14),
           (26.72, 356), (26.75, 7), (26.82, 4), (26.88, 9), (26.94, 12), (27.01, 14), (27.07, 19), (27.13, 57),
           (27.16, 87), (27.19, 157), (27.22, 179), (27.26, 207), (27.32, 232), (27.35, 219), (27.38, 224),
           (27.41, 199), (27.44, 194), (27.47, 182), (27.51, 169)]

K_ice = [(11.62, 4.5), (11.74, 5.5), (11.90, 6.6), (12.00, 5.0), (12.12, 6.6), (12.24, 5.2), (12.28, 5.5),
         (12.30, 42.6), (12.32, 12.0), (12.37, 10.7), (12.49, 10.0), (12.62, 7.9), (12.74, 6.6), (12.87, 5.9),
         (12.99, 5.2), (13.12, 7.3), (13.24, 7.9), (13.31, 19.0), (13.37, 35.6), (13.43, 60.6), (13.46, 61.9),
         (13.49, 64.7), (13.53, 49.5), (13.56, 24.6), (13.62, 6.6), (13.74, 5.9), (13.87, 4.5), (13.99, 3.8),
         (14.12, 3.5), (14.21, 5.2), (14.28, 14.9), (14.34, 35.6), (14.40, 81.3), (14.43, 57.8), (14.49, 84.1),
         (14.53, 39.8), (14.56, 12.0), (14.62, 6.6), (14.74, 6.6), (14.84, 2.4), (14.93, 5.2), (15.06, 2.4),
         (15.18, 5.2), (15.28, 19.0), (15.34, 74.4), (15.37, 81.3), (15.40, 19.0), (15.45, nan), (15.49, 71.6),
         (15.53, 55.0), (15.56, 46.7), (15.60, nan),
         (17.37, 89.6), (17.40, 46.7), (17.43, 88.2), (17.46, 99.0), (17.49, 74.4), (17.53, 56.4), (17.56, 26.0),
         (17.62, 6.6), (17.74, 3.8), (17.87, 5.9), (17.99, 5.9), (18.12, 6.6), (18.21, 6.6), (18.28, 46.7),
         (18.34, 88.2), (18.37, 53.6), (18.40, 102), (18.46, 102), (18.49, 74.4), (18.56, 26.0), (18.62, 5.2),
         (18.74, 5.2), (18.87, 5.9), (18.99, 6.6), (19.12, 6.6), (19.24, 7.9), (19.31, 32.8), (19.37, 67.5),
         (19.40, 88.2), (19.45, 74.4), (19.49, 46.7), (19.54, 26.0), (19.58, 12.0), (19.61, 6.6), (19.67, 7.3),
         (19.80, 7.3), (19.92, 6.6), (19.99, 5.2), (20.05, 4.5), (20.06, nan),
         (20.46, 16.2), (20.52, 14.9), (20.58, 7.9), (20.65, 6.6), (20.74, 4.5), (20.86, 3.8), (20.99, 3.5),
         (21.12, 3.8), (21.24, 3.5), (21.27, 32.8), (21.33, 30.1), (21.40, 46.7), (21.46, 60.6), (21.49, 88.2),
         (21.52, 102), (21.54, 102), (21.56, 74.4), (21.59, 19.0), (21.62, 3.8), (21.74, 4.5), (21.87, 5.2),
         (21.99, 5.9), (22.12, 6.6), (22.24, 12.0), (22.31, 27.3), (22.34, 16.2), (22.40, 49.5), (22.43, 37.0),
         (22.46, 24.6), (22.53, 23.2), (22.56, 16.2), (22.60, nan),
         (23.62, 6.6), (23.81, 6.6), (24.06, 6.6), (24.22, 7.9), (24.31, 19.0), (24.37, 32.8), (24.40, 19.0),
         (24.44, 32.8), (24.47, 16.2), (24.50, 32.8), (24.53, 19.0), (24.56, 10.7), (24.62, 6.6), (24.81, 5.9),
         (24.94, 5.2), (25.06, 5.2), (25.19, 4.5), (25.25, 6.6), (25.31, 19.0), (25.38, 35.6), (25.44, 50.9),
         (25.47, 35.6), (25.53, 13.5), (25.60, 5.2), (25.69, 3.8), (25.75, 6.6), (25.81, 3.8), (25.94, 6.6),
         (26.07, 6.6), (26.16, 3.8), (26.22, 5.2), (26.28, 20.5), (26.35, 30.1), (26.38, 42.6), (26.41, 64.7),
         (26.44, 35.6), (26.50, 24.6), (26.57, 7.9), (26.63, 3.8), (26.75, 3.8), (26.88, 3.1), (27.01, 3.1),
         (27.13, 3.8), (27.19, 4.5), (27.22, 32.8), (27.27, 46.7), (27.32, 99.0), (27.38, 102), (27.44, 102),
         (27.47, 81.3), (27.51, 32.8)]

I_ice = [(11.62, -50), (11.65, -68), (11.68, -56), (11.74, -50), (11.81, -46), (11.84, -34), (11.87, -10),
         (11.90, -19), (11.93, -42), (11.96, -21), (12.03, -12), (12.09, -18), (12.12, -9), (12.18, -14),
         (12.24, -28), (12.28, -12), (12.31, -20), (12.34, -24), (12.40, -33), (12.46, -24), (12.53, -15),
         (12.59, -2), (12.65, -7), (12.71, -15), (12.78, -50), (12.84, -55), (12.90, -58), (12.96, -64),
         (13.03, -56), (13.09, -30), (13.15, -12), (13.21, -15), (13.28, -12), (13.31, -65), (13.37, -64),
         (13.43, -65), (13.49, -58), (13.56, -53), (13.62, -45), (13.68, -52), (13.74, -62), (13.81, -67),
         (13.87, -70), (13.96, -72), (14.06, -75), (14.12, -73), (14.18, -48), (14.24, -27), (14.31, -16),
         (14.37, -17), (14.42, -18), (14.46, -17), (14.49, -18), (14.53, -71), (14.56, -55), (14.62, -18),
         (14.68, -15), (14.74, -28), (14.81, -68), (14.84, -78), (14.88, -42), (14.93, -17), (14.99, -47),
         (15.06, -17), (15.12, -28), (15.18, -38), (15.24, -20), (15.31, -12), (15.37, -5), (15.40, -10),
         (15.45, nan), (15.49, -40), (15.53, -30), (15.56, -45), (15.60, nan),
         (17.37, -10), (17.40, -20), (17.43, -25), (17.49, -60), (17.56, -78), (17.62, -80), (17.68, -60),
         (17.74, -80), (17.81, -72), (17.87, -68), (17.93, -65), (17.99, -58), (18.06, -66), (18.12, -50),
         (18.18, -86), (18.24, -50), (18.31, -90), (18.37, -95), (18.40, -85), (18.45, -90), (18.49, -55),
         (18.56, -60), (18.62, -55), (18.68, -50), (18.74, -38), (18.81, -31), (18.87, -28), (18.96, -24),
         (19.06, -20), (19.15, -18), (19.24, -16), (19.31, -22), (19.37, -40), (19.43, -55), (19.49, -25),
         (19.54, -22), (19.61, -20), (19.67, -14), (19.74, -9), (19.80, -6), (19.86, -8), (19.92, -13),
         (19.96, -28), (19.99, -55), (20.02, -60), (20.05, -45), (20.06, nan),
         (20.46, -12), (20.52, -12), (20.58, -10), (20.65, -14), (20.68, -42), (20.71, -63), (20.77, -56),
         (20.83, -48), (20.86, -63), (20.93, -66), (20.99, -54), (21.08, -48), (21.18, -40), (21.24, -26),
         (21.27, -40), (21.33, -70), (21.40, -82), (21.46, -80), (21.50, -86), (21.54, -82), (21.57, -60),
         (21.62, -48), (21.68, -57), (21.74, -41), (21.80, -34), (21.87, -27), (21.96, -21), (22.02, -10),
         (22.12, -10), (22.18, -9), (22.24, -10), (22.31, -25), (22.34, -45), (22.40, -60), (22.46, -40),
         (22.53, -30), (22.59, -33), (22.60, nan),
         (23.62, -10), (23.68, -14), (23.75, -10), (23.81, -18), (23.87, -42), (23.93, -8), (24.00, -12),
         (24.06, -32), (24.12, -12), (24.22, -16), (24.31, -15), (24.37, -25), (24.40, -61), (24.47, -62),
         (24.53, -20), (24.59, -18), (24.66, -22), (24.72, -35), (24.78, -62), (24.84, -18), (24.91, -72),
         (24.97, -80), (25.03, -8), (25.09, -8), (25.16, -80), (25.22, -70), (25.28, -80), (25.34, -85),
         (25.41, -70), (25.47, -88), (25.53, -85), (25.58, -57), (25.63, -75), (25.69, -68), (25.75, -12),
         (25.81, -73), (25.88, -70), (25.94, -7), (26.00, -15), (26.07, -7), (26.13, -75), (26.19, -70),
         (26.25, -36), (26.32, -30), (26.38, -25), (26.41, -82), (26.44, -45), (26.47, -70), (26.54, -67),
         (26.60, -72), (26.66, -60), (26.72, -53), (26.79, -66), (26.85, -62), (26.91, -54), (26.97, -33),
         (27.04, -26), (27.13, -22), (27.22, -18), (27.27, -15), (27.32, -20), (27.35, -40), (27.38, -65),
         (27.43, -75), (27.47, -77), (27.51, -76)]

Net_ice = [(11.62, -36.3), (11.65, -64.0), (11.68, -52.9), (11.74, -47.4), (11.81, -43.3), (11.84, -30.8),
           (11.87, -4.5), (11.90, -15.6), (11.93, -39.1), (11.96, -17.0), (12.03, -5.9), (12.09, -14.2),
           (12.12, -3.1), (12.18, -8.7), (12.24, -22.5), (12.28, -5.9), (12.31, 23.2), (12.34, -11.4),
           (12.40, -22.5), (12.46, -17.0), (12.53, -8.7), (12.59, 5.2), (12.65, 1.0), (12.71, -8.7),
           (12.78, -43.3), (12.84, -47.4), (12.90, -50.2), (12.96, -57.1), (13.03, -50.2), (13.09, -25.3),
           (13.15, -5.9), (13.21, -8.7), (13.28, 7.9), (13.31, -57.1), (13.37, -50.2), (13.43, -8.7),
           (13.49, 9.3), (13.56, -15.6), (13.62, -36.3), (13.68, -47.4), (13.74, -57.1), (13.81, -62.6),
           (13.87, -65.4), (13.96, -68.2), (14.06, -70.9), (14.12, -69.6), (14.18, -43.3), (14.24, -22.5),
           (14.31, -0.3), (14.37, 19.0), (14.42, 56.4), (14.46, 32.8), (14.49, 63.3), (14.53, -8.7),
           (14.56, -43.3), (14.62, -11.4), (14.68, -8.7), (14.74, -22.5), (14.81, -64.0), (14.84, -75.1),
           (14.88, -36.3), (14.93, -11.4), (14.99, -43.3), (15.06, -11.4), (15.12, -22.5), (15.18, -33.6),
           (15.24, -8.7), (15.31, 32.8), (15.37, 70.2), (15.40, 32.8), (15.45, nan), (15.49, 16.2),
           (15.53, 35.6), (15.56, -3.1), (15.60, nan),
           (17.37, 79.9), (17.40, 26.0), (17.43, 60.6), (17.49, -8.7), (17.56, -29.4), (17.62, -50.2),
           (17.68, -29.4), (17.74, -70.9), (17.81, -64.0), (17.87, -61.2), (17.93, -58.5), (17.99, -51.5),
           (18.06, -61.2), (18.12, -43.3), (18.18, -80.6), (18.24, 5.2), (18.31, 39.8), (18.37, 74.4),
           (18.40, 81.3), (18.45, 19.0), (18.49, -22.5), (18.56, -36.3), (18.62, -48.8), (18.68, -44.6),
           (18.74, -33.6), (18.81, -25.3), (18.87, -22.5), (18.96, -19.8), (19.06, -15.6), (19.15, -12.8),
           (19.24, -8.7), (19.31, 5.2), (19.37, 26.0), (19.43, 35.6), (19.49, 26.0), (19.54, 5.2),
           (19.61, -11.4), (19.67, -8.7), (19.74, -3.1), (19.80, -0.3), (19.86, -3.1), (19.92, -7.3),
           (19.96, -22.5), (19.99, -50.2), (20.02, -55.7), (20.05, -40.5), (20.06, nan),
           (20.46, 5.2), (20.52, 6.6), (20.58, -0.3), (20.65, -8.7), (20.68, -36.3), (20.71, -58.5),
           (20.77, -50.2), (20.83, -43.3), (20.86, -58.5), (20.93, -61.2), (20.99, -50.2), (21.08, -44.6),
           (21.18, -36.3), (21.24, -22.5), (21.27, -7.3), (21.33, -15.6), (21.40, -34.9), (21.46, -15.6),
           (21.50, 32.8), (21.54, 39.8), (21.57, -22.5), (21.62, -43.3), (21.68, -52.9), (21.74, -36.3),
           (21.80, -29.4), (21.87, -22.5), (21.96, -15.6), (22.02, -4.5), (22.12, -4.5), (22.18, 1.0),
           (22.24, 7.9), (22.31, -1.7), (22.34, -29.4), (22.40, 9.3), (22.46, -15.6), (22.53, -5.9),
           (22.59, -17.0), (22.60, nan),
           (23.62, -3.1), (23.68, -8.7), (23.75, -4.5), (23.81, -11.4), (23.87, -36.3), (23.93, -1.7),
           (24.00, -5.9), (24.06, -25.3), (24.12, -5.9), (24.22, -8.7), (24.31, 2.4), (24.37, 7.9),
           (24.40, -40.5), (24.47, -47.4), (24.53, 5.2), (24.59, -11.4), (24.66, -15.6), (24.72, -29.4),
           (24.78, -57.1), (24.84, -12.8), (24.91, -66.8), (24.97, -75.1), (25.03, -3.1), (25.09, -3.1),
           (25.16, -75.1), (25.22, -64.0), (25.28, -61.2), (25.34, -50.2), (25.41, -8.7), (25.47, -64.0),
           (25.53, -70.9), (25.58, -43.3), (25.63, -70.9), (25.69, -64.0), (25.75, -5.9), (25.81, -69.6),
           (25.88, -64.0), (25.94, -0.3), (26.00, -8.7), (26.07, -0.3), (26.13, -70.9), (26.19, -64.0),
           (26.25, -15.6), (26.32, 5.2), (26.38, 24.6), (26.44, -8.7), (26.47, -50.2), (26.54, -61.2),
           (26.60, -69.6), (26.66, -55.7), (26.72, -48.8), (26.79, -62.6), (26.85, -58.5), (26.91, -50.2),
           (26.97, -29.4), (27.04, -22.5), (27.13, -18.4), (27.22, -12.8), (27.27, 32.8), (27.32, -7.3),
           (27.35, 88.2), (27.38, 102), (27.43, 67.5), (27.47, 5.2), (27.51, -26.7)]

# cloud fraction: densely observed blocks, sparsely observed blocks and overcast tops
cf_dense_start = [11.90, 13.00, 14.21, 17.24, 17.80, 18.00, 18.50, 20.11, 21.99, 24.79, 26.00, 25.72]
cf_dense_end = [12.78, 13.34, 17.12, 17.49, 18.00, 18.50, 19.99, 20.68, 24.79, 25.22, 26.46, 25.76]
cf_dense_level = [0.875, 0.875, 0.875, 0.875, 0.875, 0.625, 0.875, 0.875, 0.875, 0.625, 0.875, 0.875]
cf_sparse_start = [11.62, 11.84, 12.78, 17.12, 17.49, 19.99, 20.68, 21.55, 25.22, 25.40, 26.46, 27.20]
cf_sparse_end = [11.84, 11.90, 12.84, 17.24, 17.80, 20.11, 20.80, 21.99, 26.00, 25.65, 26.70, 27.42]
cf_sparse_level = [0.125, 0.375, 0.125, 0.125, 0.125, 0.125, 0.125, 0.875, 0.125, 0.625, 0.125, 0.875]
cf_full_start = [11.90, 12.43, 14.21, 17.80, 18.50, 20.11, 21.99, 24.70, 26.02]
cf_full_end = [12.28, 12.78, 17.12, 18.00, 19.99, 20.68, 24.27, 25.00, 26.20]

cbh = [(11.62, 328), (11.63, nan), (11.84, 260), (11.90, 328), (11.99, 362), (12.09, 430), (12.18, 362),
       (12.28, 260), (12.31, 1967), (12.33, 6612), (12.36, 6339), (12.39, 6066), (12.42, 4700), (12.44, 4358),
       (12.47, 2650), (12.51, 1626), (12.54, 55), (12.57, 55), (12.60, 1967), (12.63, 601), (12.67, 943),
       (12.70, 1967), (12.73, 2650), (12.77, 2787), (12.81, 2309), (12.84, 2514), (12.86, nan),
       (13.01, 5450), (13.06, 4836), (13.12, 4016), (13.15, 3060), (13.21, 2787), (13.28, 2650), (13.32, 2309),
       (13.34, nan),
       (14.19, 7226), (14.23, 6748), (14.28, 5382), (14.34, 4016), (14.40, 3333), (14.43, 1557), (14.49, 1557),
       (14.56, 1421), (14.62, 1489), (14.68, 1421), (14.74, 1557), (14.78, 2104), (14.82, 2445), (14.84, 1700),
       (14.87, 2172), (14.93, 2172), (14.99, 2309), (15.06, 2445), (15.12, 2240), (15.18, 2172), (15.22, 1489),
       (15.24, 1967), (15.31, 1967), (15.37, 738), (15.43, 772), (15.49, 6066), (15.52, 5724), (15.56, 1147),
       (15.59, 5724), (15.62, 1079), (15.68, 738), (15.74, 1216), (15.78, 396), (15.84, 89), (15.93, 123),
       (16.06, 191), (16.18, 157), (16.31, 123), (16.43, 260), (16.56, 157), (16.68, 157), (16.81, 191),
       (16.93, 123), (17.06, 55), (17.09, 1626), (17.12, 6885), (17.15, 6066), (17.18, 6271), (17.20, nan),
       (17.27, 1967), (17.34, 2514), (17.38, 1421), (17.43, 1626), (17.49, 2719), (17.51, nan),
       (17.81, 5724), (17.84, 6543), (17.87, 6612), (17.90, 7158), (17.96, 7226), (18.03, 6066), (18.06, 7158),
       (18.09, 6066), (18.12, 2514), (18.18, 1421), (18.24, 1147), (18.31, 2240), (18.37, 1421), (18.43, 1147),
       (18.46, 6543), (18.49, 6543), (18.53, 5382), (18.59, 4494), (18.68, 3879), (18.74, 3538), (18.81, 3060),
       (18.87, 2514), (18.93, 1967), (18.99, 1694), (19.06, 1421), (19.12, 1830), (19.18, 1284), (19.24, 1216),
       (19.31, 1147), (19.37, 669), (19.43, 738), (19.54, 806), (19.58, 1421), (19.61, 1284), (19.67, 464),
       (19.74, 260), (19.80, 191), (19.86, 396), (19.92, 328), (19.99, 669), (20.02, 191), (20.04, nan),
       (20.08, 2104), (20.10, 464), (20.18, 396), (20.27, 260), (20.36, 123), (20.43, 55), (20.49, 191),
       (20.58, 260), (20.68, 533), (20.70, nan),
       (21.55, 5040), (21.59, 4358), (21.62, 3879), (21.65, 5040), (21.68, 5382), (21.71, 4563), (21.74, 5382),
       (21.77, 4290), (21.80, 5040), (21.84, 3743), (21.88, 3333), (21.92, 3675), (21.94, 4084), (21.98, 3333),
       (22.02, 2923), (22.06, 1626), (22.09, 2787), (22.12, 1967), (22.15, 2787), (22.18, 1626), (22.21, 601),
       (22.24, 943), (22.31, 1147), (22.37, 601), (22.43, 2172), (22.49, 1762), (22.53, 2582), (22.59, 1967),
       (22.65, 2445), (22.71, 2240), (22.78, 2309), (22.84, 1284), (22.90, 260), (22.96, 601), (23.03, 328),
       (23.09, 1626), (23.15, 396), (23.21, 328), (23.28, 874), (23.34, 464), (23.40, 260), (23.50, 260),
       (23.59, 328), (23.68, 533), (23.75, 260), (23.81, 601), (23.87, 1489), (23.93, 260), (24.00, 1284),
       (24.06, 601), (24.12, 943), (24.19, 2104), (24.25, 1694), (24.31, 943), (24.37, 601), (24.44, 1626),
       (24.50, 1694), (24.56, 601), (24.59, 2377), (24.66, 1284), (24.72, 738), (24.78, 3606), (24.84, 1967),
       (24.91, 3743), (24.94, 3675), (25.00, 1284), (25.06, 943), (25.13, 396), (25.19, 738), (25.22, 2309),
       (25.24, nan), (25.44, 1626), (25.47, 1560), (25.49, nan), (25.56, 1352), (25.60, 1830), (25.62, nan),
       (25.72, 1284), (25.78, 943), (25.80, nan),
       (25.97, 874), (26.07, 738), (26.10, 464), (26.13, 1284), (26.16, 3606), (26.19, 601), (26.25, 328),
       (26.32, 191), (26.38, 191), (26.44, 533), (26.46, nan), (26.97, 3879), (26.99, 3606), (27.00, nan),
       (27.19, 7158), (27.22, 6885), (27.27, 6748), (27.30, 5382), (27.33, 4358), (27.36, 5382), (27.39, 4221),
       (27.44, 4221)]

# ---------------- style ----------------
BLUE = '#0072BD'
ORANGE = '#D95319'
GRAY = '#404040'
YELLOW = '#EDB120'
AXC = '#262626'
EVENT = '#c2c2c2'
XLIM = (11.617, 27.506)

plt.rcParams['font.family'] = 'DejaVu Sans'
plt.rcParams['mathtext.fontset'] = 'cm'
plt.rcParams['axes.unicode_minus'] = False

TICK_FS = 19.5
LABEL_FS = 21
TEXT_FS = 14.5
LW = 3.2


def xy(pairs):
    arr = np.array(pairs, dtype=float)
    return arr[:, 0], arr[:, 1]


def base_axes(ax, ylim, yticks, ylabel):
    ax.set_xlim(XLIM)
    ax.set_ylim(ylim)
    ax.set_xticks(days)
    ax.set_yticks(yticks)
    ax.set_yticklabels([('%g' % v) for v in yticks])
    ax.tick_params(direction='in', length=7.5, width=0.6, labelsize=TICK_FS, colors=AXC, top=True, pad=9)
    ax.tick_params(axis='x', pad=11)
    ax.grid(True, color=AXC, alpha=0.15, lw=0.8)
    ax.set_axisbelow(True)
    for sp in ax.spines.values():
        sp.set_linewidth(0.75)
        sp.set_color(AXC)
    for t in event_lines:
        ax.axvline(t, color=EVENT, lw=0.75, zorder=0.8)
    for s, e in event_spans:
        ax.axvspan(s, e, color=EVENT, lw=0, zorder=0.8)
    ax.set_ylabel(ylabel, fontsize=LABEL_FS, color=AXC)
    ax.yaxis.set_label_coords(-0.073, 0.5)


def right_axes(ax, ylim, yticks, ylabel):
    ax2 = ax.twinx()
    ax2.set_xlim(XLIM)
    ax2.set_ylim(ylim)
    ax2.set_yticks(yticks)
    ax2.set_yticklabels([('%g' % v) for v in yticks])
    ax2.tick_params(direction='in', length=7.5, width=0.6, labelsize=TICK_FS, colors=ORANGE, pad=9)
    ax2.grid(axis='y', color=ORANGE, alpha=0.15, lw=0.8)
    for k in ['left', 'top', 'bottom']:
        ax2.spines[k].set_visible(False)
    ax2.spines['right'].set_color(ORANGE)
    ax2.spines['right'].set_linewidth(0.75)
    ax2.set_ylabel(ylabel, fontsize=LABEL_FS, color=ORANGE)
    ax2.yaxis.set_label_coords(1.073, 0.5)
    return ax2


def labels(ax, x, items):
    for txt, col, y in items:
        ax.text(x, y, txt, transform=ax.transAxes, color=col, fontsize=TEXT_FS, fontfamily='cmr10',
                ha='left', va='center', zorder=10)


def panel_tag(ax, tag):
    ax.text(0.011, 0.9, tag, transform=ax.transAxes, fontsize=TEXT_FS, fontfamily='cmr10',
            ha='left', va='center', color='k', zorder=10)


fig = plt.figure(figsize=(13.005, 16.19), dpi=200)
L, W, H = 0.09562, 0.80903, 0.16782
bottoms = [0.81748, 0.62647, 0.43607, 0.24521, 0.05451]
axs = [fig.add_axes([L, b, W, H]) for b in bottoms]

# a) temperature and pressure
ax = axs[0]
base_axes(ax, (-25, 5), [-20, -10, 0], r'$T\ \ [^{\circ}C]$')
ax.plot(*xy(T_ice), color=GRAY, lw=LW)
ax.plot(*xy(T_fmi), color=BLUE, lw=LW)
ax2 = right_axes(ax, (970, 1040), [980, 1000, 1020, 1040], r'$p_{sfc}\ \ [hPa]$')
ax2.plot(*xy(p0_fmi), color=ORANGE, lw=LW)
labels(ax2, 0.051, [(r'$T_{2m}$ (AWS-ice)', GRAY, 0.252), (r'$T_{2m}$ (AWS-FMI)', BLUE, 0.153),
                    (r'$p_0$ (AWS-FMI)', ORANGE, 0.05)])
panel_tag(ax2, 'a)')

# b) humidity
ax = axs[1]
base_axes(ax, (60, 100), [60, 70, 80, 90, 100], r'$RH\ \ [\%]$')
ax.plot(*xy(RH_ice), color=GRAY, lw=LW)
ax.plot(*xy(RH_fmi), color=BLUE, lw=LW)
ax2 = right_axes(ax, (0, 4), [0, 1, 2, 3, 4], r'$q\ \ [g\ kg^{-1}]$')
ax2.plot(*xy(q_ice), color=ORANGE, lw=LW)
labels(ax2, 0.051, [(r'$RH_{2m}$ (AWS-ice)', GRAY, 0.253), (r'$RH_{2m}$ (AWS-FMI)', BLUE, 0.153),
                    (r'$q_{2m}$ (AWS-ice)', ORANGE, 0.055)])
panel_tag(ax2, 'b)')

# c) wind
ax = axs[2]
base_axes(ax, (0, 20), [0, 5, 10, 15, 20], r'$U\ \ [m\,s^{-1}]$')
ax.plot(*xy(U_ice), color=GRAY, lw=LW)
ax.plot(*xy(U_fmi), color=BLUE, lw=LW)
ax2 = right_axes(ax, (0, 360), [0, 90, 180, 270, 360], r'$Dir\ \ [^{\circ}]$')
labels(ax, 0.2017, [(r'$U_{4m}$ (AWS-ice)', GRAY, 0.955), (r'$U_{29m}$ (AWS-FMI)', BLUE, 0.855),
                    (r'$Dir_{29m}$ (AWS-FMI)', ORANGE, 0.754)])
dt, dv = xy(Dir_fmi)
ax2.plot(dt, dv, ls='none', marker='o', ms=2.3, color=ORANGE, mec=ORANGE)
panel_tag(ax2, 'c)')

# d) radiation
ax = axs[3]
base_axes(ax, (-100, 100), [-100, -50, 0, 50, 100], r'$\mathrm{Radiation}\ \ [W m^{-2}]$')
ax.tick_params(right=True)
ax.plot(*xy(K_ice), color=ORANGE, lw=1.4)
ax.plot(*xy(I_ice), color=YELLOW, lw=1.4)
ax.plot(*xy(Net_ice), color=BLUE, lw=LW)
labels(ax, 0.2214, [(r'$K$ (AWS-ice)', ORANGE, 0.256), (r'$I$ (AWS-ice)', YELLOW, 0.155),
                    (r'$Net$ (AWS-ice)', BLUE, 0.052)])
panel_tag(ax, 'd)')

# e) clouds
ax = axs[4]
base_axes(ax, (0, 1), [0, 0.5, 1], r'$\mathrm{cloud\ \ fraction}$')
for s, e, lev in zip(cf_dense_start, cf_dense_end, cf_dense_level):
    ax.fill_between([s, e], 0, lev, color=BLUE, alpha=0.82, lw=0, zorder=1.5)
for s, e, lev in zip(cf_sparse_start, cf_sparse_end, cf_sparse_level):
    ax.fill_between([s, e], 0, lev, color=BLUE, alpha=0.3, lw=0, zorder=1.5)
for s, e in zip(cf_full_start, cf_full_end):
    ax.fill_between([s, e], 0.875, 1.0, color=BLUE, alpha=0.45, lw=0, zorder=1.5)
ax.set_xticklabels([str(d) for d in days])
ax.set_xlabel('Day in February 2017', fontfamily='cmr10', fontsize=LABEL_FS, color=AXC)
ax.xaxis.set_label_coords(0.5, -0.178)
ax2 = right_axes(ax, (0, 8000), [0, 2000, 4000, 6000, 8000], r'$\mathrm{cloud\ base\ height}\ \ [m]$')
ax2.plot(*xy(cbh), color=ORANGE, lw=3.6)
panel_tag(ax2, 'e)')

for a in axs[:4]:
    a.tick_params(labelbottom=False)

fig.savefig('out.png', dpi=200)
